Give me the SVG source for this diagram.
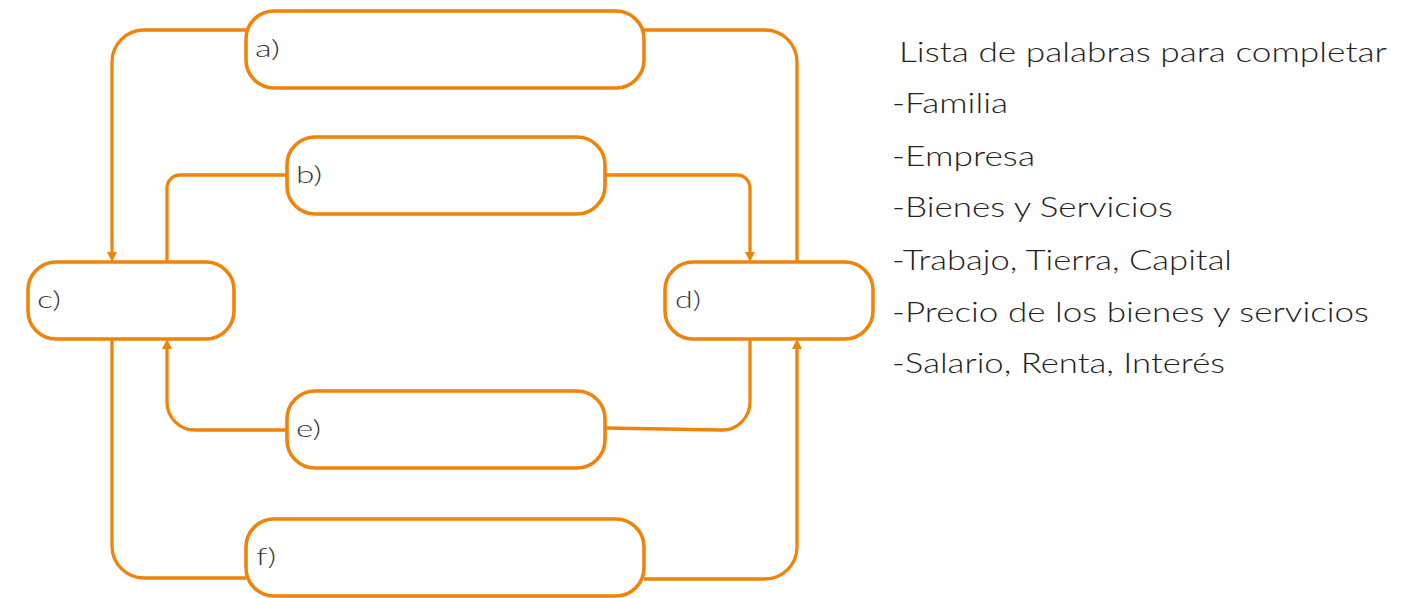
<svg xmlns="http://www.w3.org/2000/svg" width="1421" height="598" viewBox="0 0 1421 598">
<style>
.box{fill:#ffffff;stroke:#F0830A;stroke-width:3.6}
.con{fill:none;stroke:#F0830A;stroke-width:3.3}
.lbl{font-family:"Lato","Liberation Sans",sans-serif;font-weight:300;font-size:24px;fill:#3a3a3a}
.lst{font-family:"Lato","Liberation Sans",sans-serif;font-weight:300;font-size:28px;fill:#222222}
</style>
<defs>
<marker id="arr" markerUnits="userSpaceOnUse" markerWidth="10" markerHeight="10" refX="0" refY="5" orient="auto" viewBox="0 0 10 10">
<path d="M0,0 L10,5 L0,10 z" fill="#F0830A"/>
</marker>
</defs>
<rect width="1421" height="598" fill="#ffffff"/>
<g id="connectors">
<path class="con" d="M246,30 H144 A32,32 0 0 0 112,62 V252" marker-end="url(#arr)"/>
<path class="con" d="M644,30 H765 A32,32 0 0 1 797,62 V262"/>
<path class="con" d="M287,175 H180 A13,13 0 0 0 167,188 V262"/>
<path class="con" d="M605,175 H737 A13,13 0 0 1 750,188 V252" marker-end="url(#arr)"/>
<path class="con" d="M750,339 V402 A28,28 0 0 1 722,430 L605,428"/>
<path class="con" d="M287,430 H195 A28,28 0 0 1 167,402 V349" marker-end="url(#arr)"/>
<path class="con" d="M246,578 H144 A32,32 0 0 1 112,546 V339"/>
<path class="con" d="M644,579 H765 A32,32 0 0 0 797,547 V349" marker-end="url(#arr)"/>
</g>
<g id="node-a"><rect class="box" x="246" y="11" width="398" height="77" rx="28"/><text class="lbl" x="255" y="57" textLength="25" lengthAdjust="spacingAndGlyphs">a)</text></g>
<g id="node-b"><rect class="box" x="287" y="137" width="318" height="77" rx="28"/><text class="lbl" x="296" y="183" textLength="26" lengthAdjust="spacingAndGlyphs">b)</text></g>
<g id="node-c"><rect class="box" x="28" y="262" width="206" height="77" rx="28"/><text class="lbl" x="37" y="308" textLength="24" lengthAdjust="spacingAndGlyphs">c)</text></g>
<g id="node-d"><rect class="box" x="665" y="262" width="208" height="77" rx="28"/><text class="lbl" x="675" y="308" textLength="26" lengthAdjust="spacingAndGlyphs">d)</text></g>
<g id="node-e"><rect class="box" x="287" y="391" width="318" height="77" rx="28"/><text class="lbl" x="296" y="437" textLength="25" lengthAdjust="spacingAndGlyphs">e)</text></g>
<g id="node-f"><rect class="box" x="246" y="519" width="398" height="77" rx="28"/><text class="lbl" x="256" y="565" textLength="20" lengthAdjust="spacingAndGlyphs">f)</text></g>
<g id="word-list">
<text class="lst" x="899" y="62" textLength="488" lengthAdjust="spacingAndGlyphs">Lista de palabras para completar</text>
<text class="lst" x="892" y="113" textLength="116" lengthAdjust="spacingAndGlyphs">-Familia</text>
<text class="lst" x="892" y="166" textLength="143" lengthAdjust="spacingAndGlyphs">-Empresa</text>
<text class="lst" x="892" y="217" textLength="281" lengthAdjust="spacingAndGlyphs">-Bienes y Servicios</text>
<text class="lst" x="892" y="270" textLength="340" lengthAdjust="spacingAndGlyphs">-Trabajo, Tierra, Capital</text>
<text class="lst" x="892" y="322" textLength="477" lengthAdjust="spacingAndGlyphs">-Precio de los bienes y servicios</text>
<text class="lst" x="892" y="373" textLength="333" lengthAdjust="spacingAndGlyphs">-Salario, Renta, Interés</text>
</g>
</svg>
